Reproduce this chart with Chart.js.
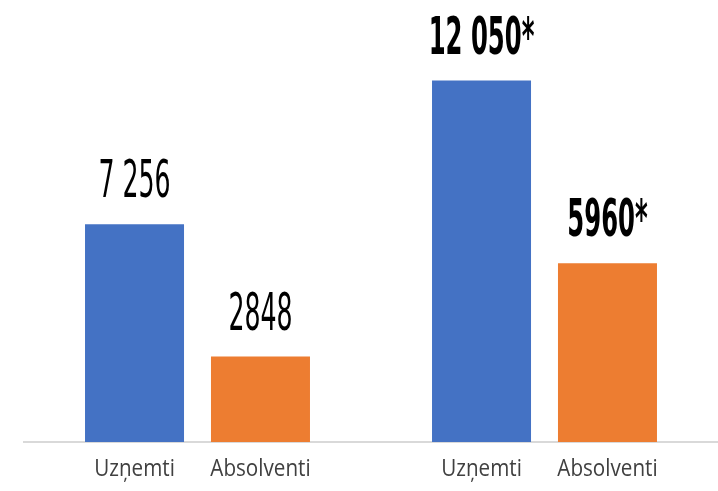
<!DOCTYPE html>
<html>
<head>
<meta charset="utf-8">
<script src="https://cdn.jsdelivr.net/npm/chart.js@4.4.1/dist/chart.umd.min.js"></script>
<style>
    html, body { margin: 0; padding: 0; background: #fff; }
    #wrap { width: 718px; height: 491px; }
</style>
</head>
<body>
<div id="wrap"><canvas id="barChart" width="718" height="491"></canvas></div>
<script>
// データ
const groups = ['1', '2'];
const barNames = ['Uzņemti', 'Absolventi'];
const uznemti = [7256, 12050];
const absolventi = [2848, 5960];
const uznemtiText = ['7 256', '12 050*'];
const absolventiText = ['2848', '5960*'];

const labelColor = '#404040';

// 棒の上の値と下の名前を描く
const barTextPlugin = {
    id: 'barText',
    afterDatasetsDraw(chart) {
        const ctx = chart.ctx;
        const texts = [uznemtiText, absolventiText];
        chart.data.datasets.forEach((ds, di) => {
            const meta = chart.getDatasetMeta(di);
            meta.data.forEach((bar, i) => {
                const bold = i === 1;
                // 値ラベル（細長い書体を横に圧縮）
                ctx.save();
                ctx.translate(bar.x, bar.y - 27);
                ctx.scale(bold ? 0.53 : 0.55, 1);
                ctx.font = (bold ? 'bold ' : '') + '51px "DejaVu Sans Condensed", "DejaVu Sans", sans-serif';
                ctx.fillStyle = '#000';
                ctx.textAlign = 'center';
                ctx.textBaseline = 'alphabetic';
                ctx.fillText(texts[di][i], 0, 0);
                ctx.restore();

                // 軸の下の名前
                ctx.save();
                ctx.translate(bar.x, 476);
                ctx.scale(0.86, 1);
                ctx.font = '24px "Open Sans", sans-serif';
                ctx.fillStyle = labelColor;
                ctx.textAlign = 'center';
                ctx.textBaseline = 'alphabetic';
                ctx.fillText(barNames[di], 0, 0);
                ctx.restore();
            });
        });
    }
};

const ctx = document.getElementById('barChart').getContext('2d');
new Chart(ctx, {
    type: 'bar',
    data: {
        labels: groups,
        datasets: [
            {
                label: barNames[0],
                data: uznemti,
                backgroundColor: '#4472C4',
                categoryPercentage: 0.726,
                barPercentage: 0.786
            },
            {
                label: barNames[1],
                data: absolventi,
                backgroundColor: '#ED7D31',
                categoryPercentage: 0.726,
                barPercentage: 0.786
            }
        ]
    },
    options: {
        responsive: false,
        animation: false,
        layout: { padding: { top: 22, left: 24, right: 0, bottom: 0 } },
        plugins: {
            legend: { display: false },
            tooltip: { enabled: false }
        },
        scales: {
            y: {
                display: false,
                min: 0,
                max: 14000
            },
            x: {
                ticks: { display: false },
                grid: { display: false },
                border: { display: true, color: '#d9d9d9', width: 2 },
                afterFit: function(scale) {
                    scale.height = 49;
                }
            }
        }
    },
    plugins: [barTextPlugin]
});
</script>
</body>
</html>
